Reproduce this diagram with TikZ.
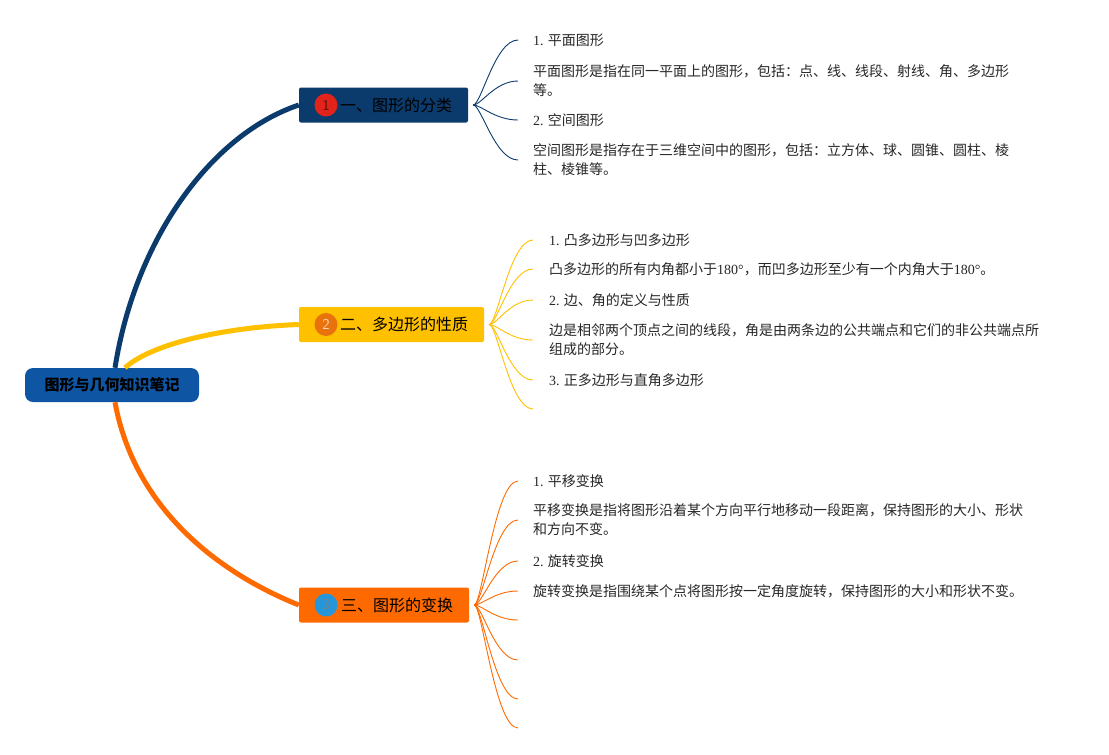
\documentclass[tikz,border=0pt]{standalone}
\usepackage{fontspec}
\setmainfont{Liberation Serif}
\newfontfamily\zh{Noto Sans CJK SC}
\usetikzlibrary{positioning}

\definecolor{rootblue}{HTML}{0E55A4}
\definecolor{navy}{HTML}{0B3A6C}
\definecolor{amber}{HTML}{FFC000}
\definecolor{tangerine}{HTML}{FF6A00}
\definecolor{numred}{HTML}{E2231A}
\definecolor{numorange}{HTML}{E8720C}
\definecolor{numblue}{HTML}{2596D9}

\newcommand\latn[1]{{\rmfamily #1}}

\begin{document}
\begin{tikzpicture} [x=1pt, y=-1pt,
            root/.style={rectangle, rounded corners=8pt, fill=rootblue,
                minimum width=174pt, minimum height=34pt,
                font=\zh\bfseries\fontsize{15}{18}\selectfont},
            branch/.style={rectangle, rounded corners=2pt, fill=#1,
                minimum height=35pt, inner xsep=16pt, align=right,
                font=\zh\fontsize{16}{19}\selectfont},
            numdot/.style={circle, fill=#1, minimum size=23pt, inner sep=0pt,
                font=\sffamily\fontsize{15}{15}\selectfont},
            leaf/.style={anchor=west, inner xsep=15pt, inner ysep=0pt,
                align=left, text=black!85,
                font=\zh\fontsize{14}{19}\selectfont},
            trunk/.style={draw=#1, line width=5pt},
            twig/.style={draw=#1, line width=0.9pt},
            fan/.style={out=0, in=180, out distance=8pt, in distance=23pt}]

        \useasboundingbox (0,0) rectangle (1109,755);

        % Root
        \node (root) [root] at (112,385) {图形与几何知识笔记};

        % Branch 1
        \node (b1) [branch=navy, text width=137pt] at (383.5,105) {一、图形的分类};
        \node (n1) [numdot=numred, text=black!60!numred,
            right=15.5pt of b1.west] {1};

        % Branch 2
        \node (b2) [branch=amber, text width=153pt] at (391.5,324.5) {二、多边形的性质};
        \node (n2) [numdot=numorange, text=white!70!numorange,
            right=15.5pt of b2.west] {2};

        % Branch 3
        \node (b3) [branch=tangerine, text width=138pt] at (384,605) {三、图形的变换};
        \node (n3) [numdot=numblue, text=black!50,
            right=15.5pt of b3.west] {3};

        % Leaves of branch 1
        \node (t11) [leaf] at (518,40) {\latn{1.} 平面图形};
        \node (t12) [leaf] at (518,81) {平面图形是指在同一平面上的图形，包括：点、线、线段、射线、角、多边形\\等。};
        \node (t13) [leaf] at (518,120) {\latn{2.} 空间图形};
        \node (t14) [leaf] at (518,160) {空间图形是指存在于三维空间中的图形，包括：立方体、球、圆锥、圆柱、棱\\柱、棱锥等。};

        % Leaves of branch 2
        \node (t21) [leaf, inner xsep=16pt] at (533,240) {\latn{1.} 凸多边形与凹多边形};
        \node (t22) [leaf, inner xsep=16pt] at (533,269) {凸多边形的所有内角都小于\latn{180°}，而凹多边形至少有一个内角大于\latn{180°}。};
        \node (t23) [leaf, inner xsep=16pt] at (533,300) {\latn{2.} 边、角的定义与性质};
        \node (t24) [leaf, inner xsep=16pt] at (533,340) {边是相邻两个顶点之间的线段，角是由两条边的公共端点和它们的非公共端点所\\组成的部分。};
        \node (t25) [leaf, inner xsep=16pt] at (533,380) {\latn{3.} 正多边形与直角多边形};
        \coordinate (e26) at (533,409);

        % Leaves of branch 3
        \node (t31) [leaf] at (518,481) {\latn{1.} 平移变换};
        \node (t32) [leaf] at (518,520) {平移变换是指将图形沿着某个方向平行地移动一段距离，保持图形的大小、形状\\和方向不变。};
        \node (t33) [leaf] at (518,561) {\latn{2.} 旋转变换};
        \node (t34) [leaf] at (518,591) {旋转变换是指围绕某个点将图形按一定角度旋转，保持图形的大小和形状不变。};
        \coordinate (e35) at (518,620);
        \coordinate (e36) at (518,660);
        \coordinate (e37) at (518,699);
        \coordinate (e38) at (518,728);

        % Joints
        \coordinate (j1) at ([xshift=5pt]b1.east);
        \coordinate (j2) at ([xshift=5pt]b2.east);
        \coordinate (j3) at ([xshift=5pt]b3.east);

        % Trunks
        \draw [trunk=navy] ([xshift=3pt]root.north)
            .. controls +(20,-127) and +(-89,30) .. (b1.west);
        \draw [trunk=amber] ([xshift=13pt]root.north)
            .. controls +(25,-23) and +(-79,3) .. (b2.west);
        \draw [trunk=tangerine] ([xshift=3pt]root.south)
            .. controls +(20,110) and +(-75,-30) .. (b3.west);

        % Twigs
        \path [twig=navy]
            (j1) edge [fan] (t11)
            (j1) edge [fan] (t12)
            (j1) edge [fan] (t13)
            (j1) edge [fan] (t14);
        \path [twig=amber]
            (j2) edge [fan] (t21)
            (j2) edge [fan] (t22)
            (j2) edge [fan] (t23)
            (j2) edge [fan] (t24)
            (j2) edge [fan] (t25)
            (j2) edge [fan] (e26);
        \path [twig=tangerine]
            (j3) edge [fan] (t31)
            (j3) edge [fan] (t32)
            (j3) edge [fan] (t33)
            (j3) edge [fan] (t34)
            (j3) edge [fan] (e35)
            (j3) edge [fan] (e36)
            (j3) edge [fan] (e37)
            (j3) edge [fan] (e38);
\end{tikzpicture}
\end{document}
